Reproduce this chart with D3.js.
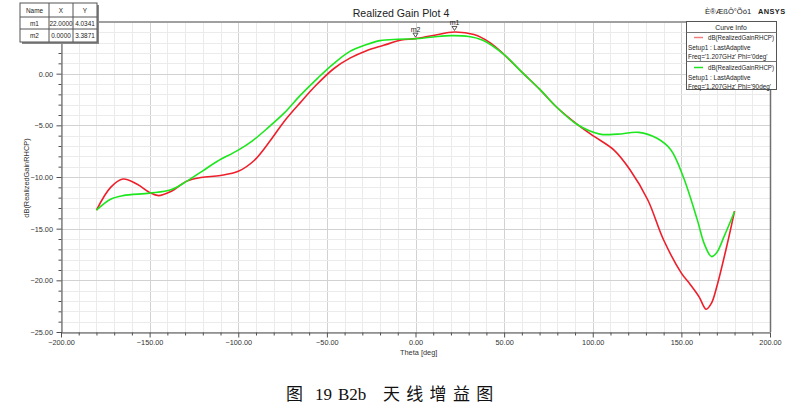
<!DOCTYPE html>
<html><head><meta charset="utf-8">
<script src="https://cdn.jsdelivr.net/npm/d3@7"></script>
<style>html,body{margin:0;padding:0;background:#fff;}svg{display:block;}</style>
</head><body>
<script>
// ---- data ----
const redTheta = [-180,-172,-165,-157,-150,-145,-138,-129,-121,-110,-100,-91,-82,-74,-65,-56,-46,-37,-28,-18,-8,0,10,22,33,42,50,60,70,80,92,101,112,121,131,140,150,155,160,164,167,170,176,180];
const redGain  = [-13.2,-11.0,-10.2,-10.7,-11.5,-11.8,-11.4,-10.4,-10.05,-9.85,-9.45,-8.4,-6.5,-4.6,-2.8,-1.1,0.5,1.5,2.2,2.74,3.25,3.3871,3.7,4.0341,3.78,3.0,1.84,0.15,-1.5,-3.3,-5.0,-6.1,-7.4,-9.3,-12.2,-16.1,-19.3,-20.4,-21.6,-22.8,-22.2,-20.6,-16.4,-13.3];
const greenTheta = [-180,-172,-165,-150,-138,-129,-120,-112,-100,-92,-83,-74,-65,-55,-46,-37,-28,-20,-10,0,10,20,30,38,50,60,70,80,91,104,114,126,136,144,151,159,163,167,170,174,180];
const greenGain  = [-13.2,-12.15,-11.8,-11.56,-11.24,-10.4,-9.4,-8.5,-7.4,-6.5,-5.2,-3.8,-2.1,-0.4,1.0,2.16,2.8,3.2,3.33,3.38,3.55,3.68,3.6,3.23,1.84,0.15,-1.5,-3.3,-4.9,-5.85,-5.85,-5.68,-6.23,-7.36,-9.95,-14.15,-16.5,-17.7,-17.3,-15.8,-13.34];
const xTicks = [-200,-150,-100,-50,0,50,100,150,200];
const yTicks = [0,-5,-10,-15,-20,-25];
const markerNames = ["m1","m2"];
const markerX = [22.0000, 0.0000];
const markerY = [4.0341, 3.3871];
const legendLines = [
  ["dB(RealizedGainRHCP)","Setup1 : LastAdaptive","Freq='1.207GHz' Phi='0deg'"],
  ["dB(RealizedGainRHCP)","Setup1 : LastAdaptive","Freq='1.207GHz' Phi='90deg'"]
];
const colors = ["#ee1f2b","#1ee61e"];

const W = 802, H = 412;
const svg = d3.select("body").append("svg").attr("width",W).attr("height",H);
const F = "'Liberation Sans', Arial, sans-serif";

const x = d3.scaleLinear().domain([-200,200]).range([61,770]);
const y = d3.scaleLinear().domain([-25,5]).range([332,22]);

// grid
const g = svg.append("g");
g.selectAll(".vx").data(d3.range(-200,201,10)).enter().append("line")
  .attr("x1",d=>Math.round(x(d))+0.5).attr("x2",d=>Math.round(x(d))+0.5).attr("y1",y(5)).attr("y2",y(-25))
  .attr("stroke",d=>xTicks.includes(d)?"#d2d2d2":"#ebebeb").attr("stroke-width",1);
g.selectAll(".hy").data(d3.range(-25,6,1)).enter().append("line")
  .attr("y1",d=>Math.round(y(d))+0.5).attr("y2",d=>Math.round(y(d))+0.5).attr("x1",x(-200)).attr("x2",x(200))
  .attr("stroke",d=>yTicks.includes(d)?"#d2d2d2":"#ebebeb").attr("stroke-width",1);

// frame
svg.append("line").attr("x1",x(-200)).attr("x2",x(200)+1).attr("y1",22).attr("y2",22).attr("stroke","#a0a0a0").attr("stroke-width",2);
svg.append("line").attr("x1",x(200)+0.5).attr("x2",x(200)+0.5).attr("y1",22).attr("y2",332).attr("stroke","#707070").attr("stroke-width",1.5);

// axes
const xAxis = d3.axisBottom(x).tickValues(d3.range(-200,201,10)).tickSize(3)
  .tickFormat(d=> xTicks.includes(d) ? d3.format(".2f")(d) : "");
const xa = svg.append("g").attr("transform","translate(0,332.5)").call(xAxis);
const yAxis = d3.axisLeft(y).tickValues(d3.range(-25,6,1)).tickSize(3)
  .tickFormat(d=> yTicks.includes(d) ? d3.format(".2f")(d) : "");
const ya = svg.append("g").attr("transform","translate(61.5,0)").call(yAxis);
[xa,ya].forEach(a=>{
  a.select(".domain").attr("stroke","#505050");
  a.selectAll(".tick line").attr("stroke","#505050");
  a.selectAll("text").attr("font-family",F).attr("font-size",7.3).attr("fill","#333");
});
xa.selectAll("text").attr("dy","0.85em");
ya.selectAll("text").attr("x",-8.5);
ya.selectAll(".tick").filter(d=>d%5===0).select("line").attr("x2",-5);
xa.selectAll(".tick").filter(d=>d%50===0).select("line").attr("y2",5);

// axis labels
svg.append("text").attr("x",400).attr("y",355).attr("font-family",F).attr("font-size",7.4).attr("fill","#333").text("Theta [deg]");
svg.append("text").attr("transform","translate(29,178) rotate(-90)").attr("text-anchor","middle")
  .attr("font-family",F).attr("font-size",7.4).attr("fill","#333").text("dB(RealizedGainRHCP)");

// title
svg.append("text").attr("x",401).attr("y",16.5).attr("text-anchor","middle").attr("font-family",F).attr("font-size",10.6).attr("fill","#222").text("Realized Gain Plot 4");
svg.append("text").attr("x",705).attr("y",14).attr("font-family",F).attr("font-size",7.6).attr("fill","#222").text("È®ÆßÔ°Õó1");
svg.append("text").attr("x",758).attr("y",14).attr("font-family",F).attr("font-size",7.4).attr("font-weight","bold").attr("letter-spacing",0.4).attr("fill","#222").text("ANSYS");

// curves
const line = d3.line().curve(d3.curveCatmullRom.alpha(0.5)).x(d=>x(d[0])).y(d=>y(d[1]));
const series = [d3.zip(redTheta,redGain), d3.zip(greenTheta,greenGain)];
series.forEach((s,i)=>{
  svg.append("path").datum(s).attr("d",line).attr("fill","none").attr("stroke",colors[i]).attr("stroke-width",1.6);
});

// markers
markerNames.forEach((n,i)=>{
  const px = x(markerX[i]), py = y(markerY[i]);
  svg.append("path").attr("d",`M${px-2.5},${py-5.5}L${px+2.5},${py-5.5}L${px},${py-1.5}Z`).attr("fill","none").attr("stroke","#333").attr("stroke-width",0.8);
  svg.append("text").attr("x",px).attr("y",py-7).attr("text-anchor","middle").attr("font-family",F).attr("font-size",7).attr("fill","#222").text(n);
});

// marker table
const tb = svg.append("g");
const cols = [20,49,73,97], rows = [3,17,29,42];
tb.append("rect").attr("x",22).attr("y",5).attr("width",77).attr("height",39).attr("fill","#888");
tb.append("rect").attr("x",20).attr("y",3).attr("width",77).attr("height",39).attr("fill","#fff").attr("stroke","#555").attr("stroke-width",1);
cols.slice(1,3).forEach(c=>tb.append("line").attr("x1",c).attr("x2",c).attr("y1",3).attr("y2",42).attr("stroke","#555"));
rows.slice(1,3).forEach(r=>tb.append("line").attr("x1",20).attr("x2",97).attr("y1",r).attr("y2",r).attr("stroke","#555"));
const hdr = ["Name","X","Y"];
const tableRows = [hdr].concat(markerNames.map((n,i)=>[n,markerX[i].toFixed(4),markerY[i].toFixed(4)]));
tableRows.forEach((r,ri)=>r.forEach((t,ci)=>{
  tb.append("text").attr("x",(cols[ci]+cols[ci+1])/2).attr("y",(rows[ri]+rows[ri+1])/2+2.5)
    .attr("text-anchor","middle").attr("font-family",F).attr("font-size",6.4).attr("fill","#222").text(t);
}));

// legend
const lg = svg.append("g");
lg.append("rect").attr("x",686.5).attr("y",21.5).attr("width",90).attr("height",68).attr("fill","#fff").attr("stroke","#555");
lg.append("text").attr("x",731).attr("y",30).attr("text-anchor","middle").attr("font-family",F).attr("font-size",6.8).attr("fill","#222").text("Curve Info");
lg.append("line").attr("x1",686.5).attr("x2",776.5).attr("y1",32.5).attr("y2",32.5).attr("stroke","#777");
lg.append("line").attr("x1",686.5).attr("x2",776.5).attr("y1",61.5).attr("y2",61.5).attr("stroke","#777");
legendLines.forEach((ls,i)=>{
  const y0 = 40 + i*30;
  lg.append("line").attr("x1",694).attr("x2",703).attr("y1",y0-2.5).attr("y2",y0-2.5).attr("stroke",i===0?"#f08080":colors[i]).attr("stroke-width",1.5);
  lg.append("text").attr("x",708).attr("y",y0).attr("font-family",F).attr("font-size",6.4).attr("textLength",66).attr("lengthAdjust","spacingAndGlyphs").attr("fill","#222").text(ls[0]);
  lg.append("text").attr("x",688).attr("y",y0+9.5).attr("font-family",F).attr("font-size",6.4).attr("fill","#222").text(ls[1]);
  lg.append("text").attr("x",688).attr("y",y0+19).attr("font-family",F).attr("font-size",6.4).attr("fill","#222").text(ls[2]);
});

// caption
const cap = svg.append("text").attr("y",400).attr("fill","#111")
  .attr("font-family","'Liberation Serif','Noto Sans CJK SC',serif");
cap.append("tspan").attr("x",286).attr("font-size",17).attr("font-family","'Noto Sans CJK SC'").text("图");
cap.append("tspan").attr("x",315).attr("font-size",17).text("19");
cap.append("tspan").attr("x",338).attr("font-size",17).text("B2b");
cap.append("tspan").attr("x",383).attr("font-size",17).attr("letter-spacing",6.3).attr("font-family","'Noto Sans CJK SC'").text("天线增益图");
</script>
</body></html>
